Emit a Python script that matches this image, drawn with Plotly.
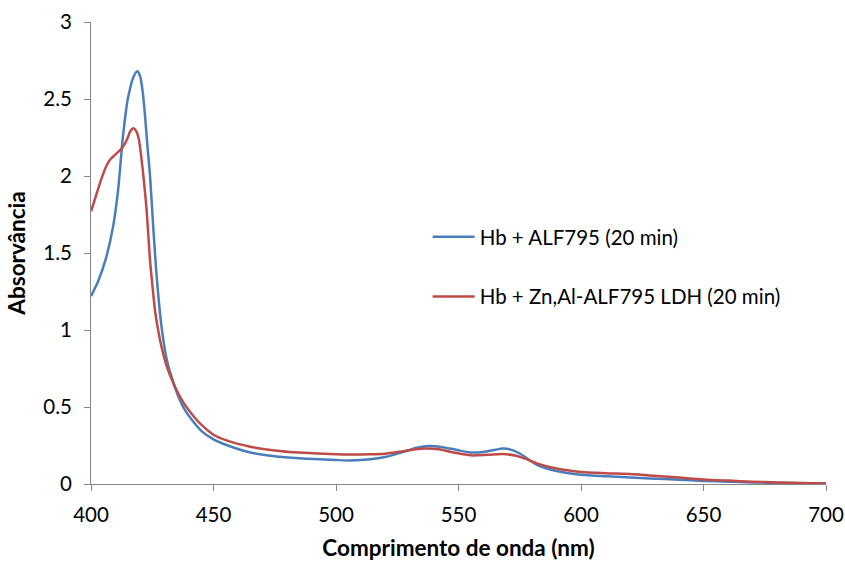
import plotly.graph_objects as go

# Hb + ALF795 (20 min)
wl_blue = [400, 403, 406, 409, 411, 413, 415, 416, 417, 418.9, 420, 421, 422, 423, 424.1,
           425.4, 426.8, 428.8, 430.9, 433, 435.6, 438, 441, 445, 450, 455, 465, 475, 485,
           500, 506, 514, 520, 528, 533, 538, 543, 549, 555, 560, 565, 568, 571, 575, 582,
           590, 600, 610, 620, 628, 640, 650, 660, 670, 680, 690, 700]
abs_blue = [1.22, 1.32, 1.46, 1.67, 1.90, 2.25, 2.50, 2.57, 2.63, 2.68, 2.65, 2.56, 2.40, 2.20, 2.00,
            1.67, 1.35, 1.02, 0.81, 0.69, 0.57, 0.49, 0.42, 0.345, 0.29, 0.255, 0.205, 0.18, 0.167,
            0.156, 0.153, 0.16, 0.175, 0.21, 0.235, 0.247, 0.24, 0.222, 0.205, 0.208, 0.222, 0.23, 0.225, 0.198, 0.125,
            0.085, 0.06, 0.05, 0.043, 0.036, 0.028, 0.02, 0.015, 0.01, 0.008, 0.005, 0.003]

# Hb + Zn,Al-ALF795 LDH (20 min)
wl_red = [400, 402, 404, 406.4, 408, 410, 412, 413.5, 415, 416, 417.3, 418.5, 419.5, 420.7, 421.7,
          422.7, 424.1, 425, 426.1, 427.5, 428.8, 431, 434.3, 437.7, 442.4, 445, 450, 455, 465,
          475, 485, 500, 514, 520, 528, 536, 542, 548, 555, 562, 568, 573, 578, 582,
          590, 600, 610, 620, 628, 640, 650, 660, 670, 680, 690, 700]
abs_red = [1.77, 1.87, 1.97, 2.07, 2.11, 2.14, 2.17, 2.20, 2.25, 2.29, 2.31, 2.29, 2.24, 2.10, 1.95,
           1.78, 1.45, 1.30, 1.13, 0.99, 0.89, 0.76, 0.63, 0.53, 0.43, 0.385, 0.32, 0.285, 0.242,
           0.218, 0.204, 0.193, 0.193, 0.197, 0.215, 0.23, 0.225, 0.205, 0.186, 0.19, 0.195, 0.185, 0.16, 0.134,
           0.10, 0.078, 0.07, 0.065, 0.056, 0.042, 0.03, 0.022, 0.015, 0.01, 0.007, 0.004]

names = ["Hb + ALF795 (20 min)", "Hb + Zn,Al-ALF795 LDH (20 min)"]
colors = ["#4A7EBB", "#BE4B48"]

FONT = "Lato"
fig = go.Figure()
fig.add_trace(go.Scatter(x=wl_blue, y=abs_blue, mode="lines", name=names[0], legendgroup="a",
                         line=dict(color=colors[0], width=2.5, shape="spline", smoothing=0.8)))
fig.add_trace(go.Scatter(x=wl_red, y=abs_red, mode="lines", name=names[1], legendgroup="b",
                         line=dict(color=colors[1], width=2.5, shape="spline", smoothing=0.8)))

axis_common = dict(showgrid=False, zeroline=False, showline=True, linecolor="#868686", linewidth=1,
                   ticks="outside", ticklen=6, tickcolor="#868686", tickwidth=1, automargin=False,
                   tickfont=dict(family=FONT, size=20.5, color="#000000"))

fig.update_layout(
    width=845, height=562,
    margin=dict(l=91, r=19, t=22, b=78),
    plot_bgcolor="white", paper_bgcolor="white",
    font=dict(family=FONT, color="#000000"),
    showlegend=True,
    legend=dict(x=0.458, y=0.578, xanchor="left", yanchor="top", bgcolor="rgba(0,0,0,0)",
                font=dict(family=FONT, size=20.5, color="#000000"), tracegroupgap=30,
                itemwidth=42, traceorder="grouped"),
    xaxis=dict(range=[400, 700], dtick=50, tick0=400, ticklabelstandoff=6,
               title=dict(text="<b>Comprimento de onda (nm)</b>", font=dict(family=FONT, size=22.5), standoff=15),
               **axis_common),
    yaxis=dict(range=[0, 3], dtick=0.5, tick0=0, ticklabelstandoff=8,
               title=dict(text="<b>Absorvância</b>", font=dict(family=FONT, size=22.5), standoff=11),
               **axis_common),
)

fig.write_html("out.html")
